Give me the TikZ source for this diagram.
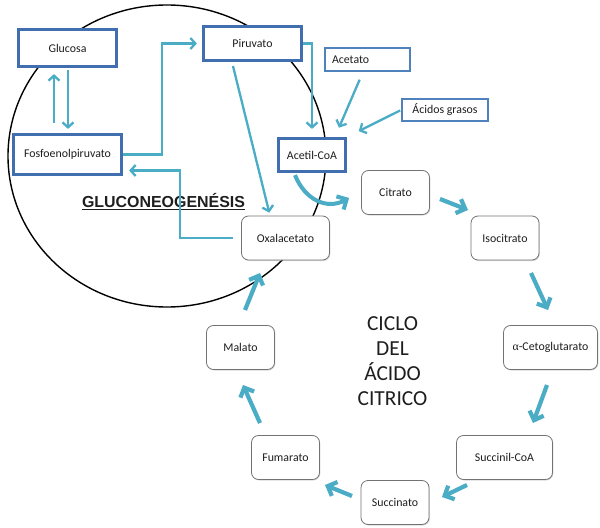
\documentclass[tikz,border=0pt]{standalone}
\usepackage{fontspec}
\setmainfont{Carlito}
\newfontfamily\arialfont{Liberation Sans}
\newfontfamily\greekfont{Liberation Serif}
\usetikzlibrary{arrows.meta,calc,shadows}
\definecolor{boxblue}{RGB}{65,110,175}
\definecolor{thinblue}{RGB}{79,129,189}
\definecolor{arrowblue}{RGB}{75,172,198}
\definecolor{txt}{RGB}{30,30,30}
\begin{document}
\begin{tikzpicture}[x=1bp,y=-1bp,
  font=\fontsize{11.9}{14}\selectfont, text=txt,
  bluebox/.style={draw=boxblue, line width=3.2bp, fill=white, inner sep=0pt},
  thinbox/.style={draw=thinblue, line width=1.8bp, fill=white, inner sep=0pt},
  roundbox/.style={draw=black!55, line width=0.8bp, fill=white, rounded corners=7bp,
    inner sep=0pt, minimum width=68bp, minimum height=44bp,
    drop shadow={shadow xshift=0.8bp, shadow yshift=-1bp, opacity=0.3}},
  conn/.style={draw=arrowblue, line width=2.3bp, -{Straight Barb[length=5bp,width=11bp]}},
  cyc/.style={draw=arrowblue, line width=4.2bp, -{Straight Barb[length=7.5bp,width=15bp]}},
]
\useasboundingbox (0,0) rectangle (600,528);
\fill[white] (0,0) rectangle (600,528);

% circle of gluconeogenesis
\draw[black, line width=1.4bp] (167,156) ellipse [x radius=159, y radius=151];

% boxes
\node[bluebox, minimum width=98bp, minimum height=37bp] (glucosa) at (67.5,48) {Glucosa};
\node[bluebox, minimum width=108bp, minimum height=40bp] (fosfo) at (67.5,154.5) {Fosfoenolpiruvato};
\node[bluebox, minimum width=98bp, minimum height=34bp] (piruvato) at (252.5,43.5) {Piruvato};
\node[thinbox, minimum height=23bp, text width=71bp, inner xsep=7bp, align=left] (acetato) at (367.5,59.5) {Acetato};
\node[thinbox, minimum width=86bp, minimum height=22bp] (acidos) at (445,110) {Ácidos grasos};
\node[bluebox, minimum width=67bp, minimum height=33bp] (acetil) at (312,155) {Acetil-CoA};

\node[roundbox] (citrato) at (395.5,192.5) {Citrato};
\node[roundbox] (isocitrato) at (505,238) {Isocitrato};
\node[roundbox, minimum width=88bp] (oxal) at (285.5,238) {Oxalacetato};
\node[roundbox] (malato) at (240.5,347.5) {Malato};
\node[roundbox, minimum width=94bp] (ceto) at (550.5,347.5) {{\greekfont α}-Cetoglutarato};
\node[roundbox] (fumarato) at (285.5,457.5) {Fumarato};
\node[roundbox, minimum width=96bp] (succoa) at (504.5,457.5) {Succinil-CoA};
\node[roundbox] (succinato) at (395,502.5) {Succinato};

% labels
\node[anchor=base, font=\arialfont\bfseries\fontsize{16}{19}\selectfont] (gluco) at (163.5,208) {\underline{GLUCONEOGENÉSIS}};
\node[align=center, font=\fontsize{21.5}{25.3}\selectfont] (ciclo) at (392.5,361) {CICLO\\DEL\\ÁCIDO\\CITRICO};

% thin connectors
\draw[conn, shorten <=10bp, shorten >=6bp] ($(fosfo.north)+(-13.5,0)$) -- ($(glucosa.south)+(-13.5,0)$);
\draw[conn, shorten <=2bp, shorten >=4bp] ($(glucosa.south)+(0.5,0)$) -- ($(fosfo.north)+(0.5,0)$);
\draw[conn, shorten >=5bp] (fosfo.east) -- ++(39,0) |- (piruvato.west);
\draw[conn, shorten <=8bp, shorten >=6bp] (oxal.west) -- ++(-61,0) |- ($(fosfo.east)+(0,16)$);
\draw[conn, shorten <=4bp, shorten >=3bp] ($(piruvato.south)+(-20.5,0)$) -- ($(oxal.north)+(-15.5,0)$);
\draw[conn, shorten >=8bp] (piruvato.east) -| (acetil.north);
\draw[conn, shorten <=8.5bp, shorten >=10bp] ($(acetato.south)+(-4.5,0)$) -- ($(acetil.north)+(23,0)$);
\draw[conn, shorten <=1bp, shorten >=13bp] (acidos.west) -- (acetil.north east);

% Acetil-CoA to Citrato
\draw[cyc, line width=4bp] ($(acetil.south)+(-17,2)$) .. controls +(10,25) and +(-22,12) .. ($(citrato.west)+(-12,5.5)$);

% citric acid cycle arrows
\coordinate (c1s) at (440,199); \coordinate (c1e) at (468,210);
\coordinate (c2s) at (531,273); \coordinate (c2e) at (548,310);
\coordinate (c3s) at (547,385); \coordinate (c3e) at (533,423);
\coordinate (c4s) at (467,485); \coordinate (c4e) at (442,497);
\coordinate (c5s) at (352,496); \coordinate (c5e) at (325,485);
\coordinate (c6s) at (260,423); \coordinate (c6e) at (243,385);
\coordinate (c7s) at (245,310); \coordinate (c7e) at (260,273);
\draw[cyc] (c1s) -- (c1e);
\draw[cyc] (c2s) -- (c2e);
\draw[cyc] (c3s) -- (c3e);
\draw[cyc] (c4s) -- (c4e);
\draw[cyc] (c5s) -- (c5e);
\draw[cyc] (c6s) -- (c6e);
\draw[cyc] (c7s) -- (c7e);
\end{tikzpicture}
\end{document}
